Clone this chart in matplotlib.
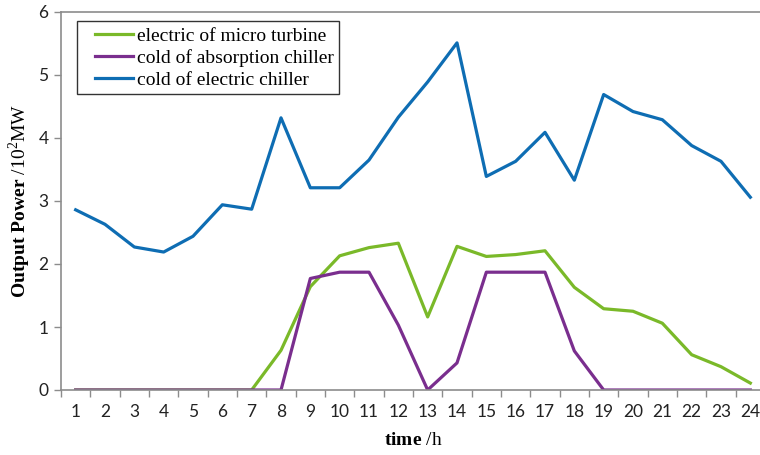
import matplotlib
matplotlib.use("Agg")
import matplotlib.pyplot as plt
from matplotlib.legend_handler import HandlerLine2D

# hourly output, units of 10^2 MW
hours = list(range(1, 25))
micro_turbine = [0, 0, 0, 0, 0, 0, 0, 0.63, 1.64, 2.13, 2.26, 2.33,
                 1.16, 2.28, 2.12, 2.15, 2.21, 1.63, 1.29, 1.25, 1.06, 0.56, 0.37, 0.11]
absorption_chiller = [0, 0, 0, 0, 0, 0, 0, 0, 1.77, 1.87, 1.87, 1.03,
                      0, 0.43, 1.87, 1.87, 1.87, 0.62, 0, 0, 0, 0, 0, 0]
electric_chiller = [2.86, 2.63, 2.27, 2.19, 2.44, 2.94, 2.87, 4.32, 3.21, 3.21, 3.65, 4.33,
                    4.89, 5.51, 3.39, 3.63, 4.09, 3.33, 4.69, 4.42, 4.29, 3.88, 3.63, 3.06]


class IndentedLine(HandlerLine2D):
    # legend line drawn only on the right part of the handle box
    def create_artists(self, legend, orig_handle, xdescent, ydescent, width, height, fontsize, trans):
        artists = super().create_artists(legend, orig_handle, xdescent, ydescent,
                                         width, height, fontsize, trans)
        line = artists[0]
        x0, x1 = line.get_xdata()[0], line.get_xdata()[-1]
        y = line.get_ydata()[0]
        line.set_data([x0 + (x1 - x0) * 0.24, x1], [y, y])
        return artists


plt.rcParams["mathtext.fontset"] = "custom"
plt.rcParams["mathtext.rm"] = "Liberation Serif"
plt.rcParams["mathtext.bf"] = "Liberation Serif:bold"

fig = plt.figure(figsize=(7.6, 4.55), dpi=100)
ax = fig.add_axes([61 / 760, 65 / 455, 704 / 760, 378 / 455])

ax.plot(hours, micro_turbine, color="#7AB929", lw=2.3, label="electric of micro turbine")
ax.plot(hours, absorption_chiller, color="#7A2E8E", lw=2.3, label="cold of absorption chiller")
ax.plot(hours, electric_chiller, color="#0E6DB3", lw=2.3, label="cold of electric chiller")

ax.set_xlim(0.5, 24.5)
ax.set_ylim(0, 6)
ax.set_yticks(range(0, 7))
ax.set_xticks(hours)
ax.set_xticks([h - 0.5 for h in hours] + [24.5], minor=True)
ax.tick_params(axis="x", which="major", length=0, pad=10)
ax.tick_params(axis="x", which="minor", length=5, color="#8C8C8C", width=1)
ax.tick_params(axis="y", length=5, color="#8C8C8C", width=1, pad=4)
for lab in ax.get_xticklabels() + ax.get_yticklabels():
    lab.set_fontfamily("Lato")
    lab.set_fontsize(12.5)
    lab.set_color("#222222")

for side in ["left", "bottom", "top"]:
    ax.spines[side].set_color("#8C8C8C")
    ax.spines[side].set_linewidth(1.2)
ax.spines["right"].set_visible(False)

ax.set_ylabel(r"$\mathbf{Output\;Power}$ /10$^2$MW", fontsize=14, labelpad=4,
              fontfamily="Liberation Serif")
ax.set_xlabel(r"$\mathbf{time}$ /h", fontsize=14, labelpad=9, fontfamily="Liberation Serif")

leg = ax.legend(loc="upper left", bbox_to_anchor=(0.0227, 0.976), frameon=True, fancybox=False,
                prop={"family": "Liberation Serif", "size": 14}, handlelength=2.57,
                handletextpad=0.2, labelspacing=0.22, borderpad=0.3, borderaxespad=0,
                handler_map={plt.Line2D: IndentedLine()})
leg.get_frame().set_edgecolor("black")
leg.get_frame().set_linewidth(1.0)

fig.savefig("out.png", dpi=100)
